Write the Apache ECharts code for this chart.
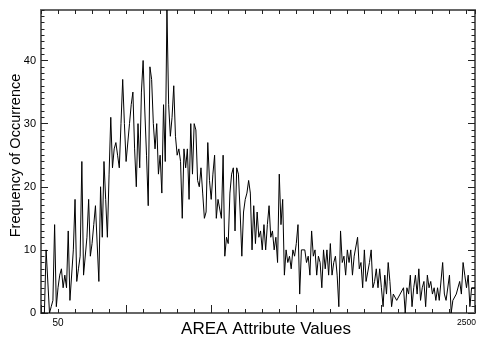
<!DOCTYPE html>
<html>
<head>
<meta charset="utf-8">
<script src="https://cdn.jsdelivr.net/npm/echarts/dist/echarts.min.js"></script>
<style>
  html, body { margin: 0; padding: 0; background: #fff; }
  #chart { width: 484px; height: 337px; }
</style>
</head>
<body>
<div id="chart"></div>
<script>
// frequency per bin (bin index 0..255)
const freq = [
  0, 0, 0, 10, 10, 0, 1, 2, 14, 1,
  4, 6, 7, 4, 6, 4, 13, 2, 2, 10,
  18, 5, 7, 9, 24, 6, 6, 12, 18, 9,
  11, 14, 17, 17, 5, 20, 12, 24, 18, 12,
  22, 31, 23, 26, 27, 25, 23, 30, 37, 30,
  24, 24, 30, 33, 35, 26, 20, 30, 23, 35,
  40, 32, 25, 17, 39, 37, 30, 26, 30, 22,
  25, 19, 33, 24, 48, 33, 28, 31, 36, 28,
  25, 26, 24, 15, 26, 23, 26, 18, 30, 22,
  30, 29, 21, 20, 23, 19, 15, 16, 27, 21,
  18, 22, 25, 15, 18, 18, 15, 25, 9, 12,
  11, 19, 22, 23, 13, 23, 22, 16, 9, 16,
  18, 19, 21, 19, 10, 17, 11, 16, 12, 13,
  10, 14, 10, 14, 17, 12, 13, 10, 12, 8,
  22, 14, 18, 6, 10, 8, 9, 7, 10, 9,
  11, 14, 3, 10, 10, 10, 8, 9, 6, 13,
  9, 10, 6, 9, 8, 4, 10, 7, 10, 6,
  11, 6, 8, 9, 6, 1, 13, 8, 9, 6,
  10, 8, 10, 6, 9, 9, 12, 7, 8, 4,
  10, 5, 5, 8, 10, 4, 5, 7, 4, 7,
  4, 1, 6, 3, 8, 5, 1, 3, 3, 2,
  2, 3, 3, 4, 0, 4, 3, 6, 1, 4,
  6, 3, 7, 2, 4, 5, 1, 6, 4, 5,
  3, 4, 2, 4, 2, 2, 8, 3, 2, 2,
  6, 0, 2, 2, 3, 3, 5, 3, 8, 6,
  4, 6, 1, 4, 4, 4
];

// x tick labels: only two positions are labelled (the last one is printed smaller)
const xTickPos = [10, 250];
const xTickLabels = ['50', '2500'];
const xTickStyle = ['a', 'b'];

const yTicks = [0, 10, 20, 30, 40];

const axisColor = '#666';
const tickColor = '#222';
const font = 'Liberation Sans, Arial, sans-serif';

const points = freq.map((v, i) => [i, v]);

const chart = echarts.init(document.getElementById('chart'));

const hidden = { show: false };
const noLine = { show: false, onZero: false };
const boxLine = { show: true, onZero: false, lineStyle: { color: axisColor, width: 2 } };

const option = {
  animation: false,
  backgroundColor: '#fff',
  grid: {
    left: 41, right: 9, top: 10, bottom: 24,
    containLabel: false, outerBoundsMode: 'none'
  },
  xAxis: [
    {
      type: 'value', position: 'bottom', min: 0, max: 255, interval: 10,
      axisLine: boxLine,
      axisTick: { show: true, inside: true, length: 4, lineStyle: { color: tickColor } },
      splitLine: hidden,
      axisLabel: {
        show: true, margin: 5, fontFamily: font, fontSize: 10, color: '#000',
        showMinLabel: false, showMaxLabel: false,
        formatter: (v) => {
          const k = xTickPos.indexOf(Math.round(v));
          return k >= 0 ? '{' + xTickStyle[k] + '|' + xTickLabels[k] + '}' : '';
        },
        rich: {
          a: { fontFamily: font, fontSize: 10, color: '#000' },
          b: { fontFamily: font, fontSize: 8.5, color: '#000' }
        }
      },
      name: 'AREA Attribute Values', nameLocation: 'middle', nameGap: 8,
      nameMoveOverlap: false,
      nameTextStyle: { fontFamily: font, fontSize: 17, color: '#000', padding: [0, 0, 0, 16] }
    },
    {
      type: 'value', position: 'bottom', min: 0, max: 255, interval: 50,
      axisLine: noLine, splitLine: hidden, axisLabel: hidden,
      axisTick: { show: true, inside: true, length: 8, lineStyle: { color: tickColor } }
    },
    {
      type: 'value', position: 'top', min: 0, max: 255, interval: 10,
      axisLine: boxLine,
      splitLine: hidden, axisLabel: hidden,
      axisTick: { show: true, inside: true, length: 4, lineStyle: { color: tickColor } }
    }
  ],
  yAxis: [
    {
      type: 'value', position: 'left', min: 0, max: 48, interval: 10,
      axisLine: boxLine,
      axisTick: { show: true, inside: true, length: 7, lineStyle: { color: tickColor } },
      splitLine: hidden,
      axisLabel: {
        show: true, margin: 5, fontFamily: font, fontSize: 11, color: '#000',
        showMaxLabel: false,
        formatter: (v) => (yTicks.indexOf(v) >= 0 ? String(v) : '')
      },
      name: 'Frequency of Occurrence', nameLocation: 'middle', nameGap: 18,
      nameMoveOverlap: false,
      nameTextStyle: { fontFamily: font, fontSize: 14.5, color: '#000', padding: [0, 0, 0, 12] }
    },
    {
      type: 'value', position: 'left', min: 0, max: 48, interval: 1,
      axisLine: noLine, splitLine: hidden, axisLabel: hidden,
      axisTick: { show: true, inside: true, length: 3.5, lineStyle: { color: tickColor } }
    },
    {
      type: 'value', position: 'right', min: 0, max: 48, interval: 10,
      axisLine: boxLine,
      splitLine: hidden, axisLabel: hidden,
      axisTick: { show: true, inside: true, length: 7, lineStyle: { color: tickColor } }
    },
    {
      type: 'value', position: 'right', min: 0, max: 48, interval: 1,
      axisLine: noLine, splitLine: hidden, axisLabel: hidden,
      axisTick: { show: true, inside: true, length: 3.5, lineStyle: { color: tickColor } }
    }
  ],
  series: [
    {
      type: 'line',
      xAxisIndex: 0,
      yAxisIndex: 0,
      data: points,
      showSymbol: false,
      symbol: 'none',
      lineStyle: { color: '#000', width: 1 },
      clip: true
    }
  ]
};

chart.setOption(option);
</script>
</body>
</html>
